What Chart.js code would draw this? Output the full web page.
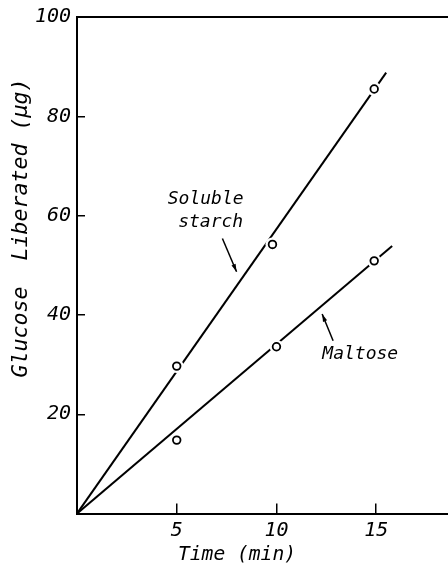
<!DOCTYPE html>
<html>
<head>
<meta charset="utf-8">
<script src="https://cdn.jsdelivr.net/npm/chart.js@4/dist/chart.umd.min.js"></script>
<style>
  html, body { margin: 0; padding: 0; background: #fff; }
  canvas { display: block; }
</style>
</head>
<body>
<canvas id="chart" width="448" height="572"></canvas>
<script>
// Glucose liberated from two substrates over time
const timeTicks = [5, 10, 15];
const glucoseTicks = [20, 40, 60, 80, 100];

// measured points
const starchTime = [5, 9.8, 14.9];
const starchGlucose = [29.7, 54.2, 85.5];
const maltoseTime = [5, 10, 14.9];
const maltoseGlucose = [14.8, 33.6, 50.9];

// fitted straight lines through the origin
const starchFitTime = [0, 15.5];
const starchFitGlucose = [0, 88.8];
const maltoseFitTime = [0, 15.8];
const maltoseFitGlucose = [0, 53.9];

const pts = (xs, ys) => xs.map((x, i) => ({ x: x, y: ys[i] }));

const FONT = '"DejaVu Sans Mono", monospace';
const INK = '#000';

// curve labels with arrows, placed in data units
const notes = [
  { lines: ['Soluble', 'starch'], at: [[6.45, 63.3], [6.7, 58.7]], arrow: [[7.29, 55.4], [8.0, 48.7]] },
  { lines: ['Maltose'], at: [[14.2, 32.1]], arrow: [[12.84, 34.8], [12.29, 40.2]] }
];

// fixed axis box sizes, with no extra edge padding for tick labels
const fixBox = (w, h) => s => {
  if (w !== null) s.width = w;
  if (h !== null) s.height = h;
  s.paddingTop = 0; s.paddingBottom = 0; s.paddingLeft = 0; s.paddingRight = 0;
};

const decorations = {
  id: 'decorations',
  afterDraw(chart) {
    const ctx = chart.ctx;
    const xs = chart.scales.x, ys = chart.scales.y;
    ctx.save();
    ctx.fillStyle = INK;
    ctx.strokeStyle = INK;

    // axis titles
    ctx.textAlign = 'center';
    ctx.textBaseline = 'middle';
    ctx.font = 'italic 19.6px ' + FONT;
    ctx.fillText('Time (min)', 237, 555);

    ctx.save();
    ctx.translate(21, 228);
    ctx.rotate(-Math.PI / 2);
    ctx.font = 'italic 21.6px ' + FONT;
    ctx.fillText('Glucose  Liberated (\u03BCg)', 0, 0);
    ctx.restore();

    // curve labels and arrows
    ctx.font = 'italic 18px ' + FONT;
    notes.forEach(n => {
      n.lines.forEach((t, i) => {
        ctx.fillText(t, xs.getPixelForValue(n.at[i][0]), ys.getPixelForValue(n.at[i][1]));
      });
      const x0 = xs.getPixelForValue(n.arrow[0][0]), y0 = ys.getPixelForValue(n.arrow[0][1]);
      const x1 = xs.getPixelForValue(n.arrow[1][0]), y1 = ys.getPixelForValue(n.arrow[1][1]);
      const a = Math.atan2(y1 - y0, x1 - x0);
      ctx.lineWidth = 1.5;
      ctx.beginPath();
      ctx.moveTo(x0, y0);
      ctx.lineTo(x1, y1);
      ctx.stroke();
      ctx.beginPath();
      ctx.moveTo(x1, y1);
      ctx.lineTo(x1 - 8 * Math.cos(a - 0.28), y1 - 8 * Math.sin(a - 0.28));
      ctx.lineTo(x1 - 8 * Math.cos(a + 0.28), y1 - 8 * Math.sin(a + 0.28));
      ctx.closePath();
      ctx.fill();
    });
    ctx.restore();
  }
};

const lineDs = (xs, ys) => ({
  type: 'line',
  data: pts(xs, ys),
  borderColor: INK,
  borderWidth: 2,
  pointRadius: 0,
  fill: false,
  tension: 0,
  order: 3
});
const haloDs = (xs, ys) => ({
  type: 'scatter',
  data: pts(xs, ys),
  pointRadius: 7,
  pointBackgroundColor: '#fff',
  pointBorderWidth: 0,
  pointBorderColor: '#fff',
  order: 2
});
const markDs = (label, xs, ys) => ({
  type: 'scatter',
  label: label,
  data: pts(xs, ys),
  pointRadius: 3.8,
  pointBackgroundColor: '#fff',
  pointBorderColor: INK,
  pointBorderWidth: 1.8,
  order: 1
});

new Chart(document.getElementById('chart'), {
  type: 'scatter',
  data: {
    datasets: [
      lineDs(starchFitTime, starchFitGlucose),
      lineDs(maltoseFitTime, maltoseFitGlucose),
      haloDs(starchTime, starchGlucose),
      haloDs(maltoseTime, maltoseGlucose),
      markDs('Soluble starch', starchTime, starchGlucose),
      markDs('Maltose', maltoseTime, maltoseGlucose)
    ]
  },
  options: {
    responsive: false,
    animation: false,
    events: [],
    layout: { autoPadding: false, padding: { top: 17, right: 0, left: 0, bottom: 0 } },
    plugins: { legend: { display: false }, tooltip: { enabled: false } },
    scales: {
      x: {
        type: 'linear',
        position: 'bottom',
        min: 0,
        max: 18.6,
        afterBuildTicks: s => { s.ticks = timeTicks.map(v => ({ value: v })); },
        afterFit: fixBox(null, 58.4),
        border: { display: true, color: INK, width: 2 },
        grid: { drawOnChartArea: false, drawTicks: true, tickLength: -10, color: INK, lineWidth: 1.5 },
        ticks: { color: INK, padding: 15, maxRotation: 0, font: { family: FONT, size: 20, style: 'italic' } }
      },
      x2: {
        type: 'linear',
        position: 'top',
        min: 0,
        max: 18.6,
        afterFit: fixBox(null, 0),
        border: { display: true, color: INK, width: 2 },
        grid: { drawOnChartArea: false, drawTicks: false },
        ticks: { display: false }
      },
      y: {
        type: 'linear',
        position: 'left',
        min: 0,
        max: 100,
        afterBuildTicks: s => { s.ticks = glucoseTicks.map(v => ({ value: v })); },
        afterFit: fixBox(77, null),
        border: { display: true, color: INK, width: 2 },
        grid: { drawOnChartArea: false, drawTicks: true, tickLength: -8, color: INK, lineWidth: 1.5 },
        ticks: { color: INK, padding: 14, font: { family: FONT, size: 20, style: 'italic' } }
      }
    }
  },
  plugins: [decorations]
});
</script>
</body>
</html>
